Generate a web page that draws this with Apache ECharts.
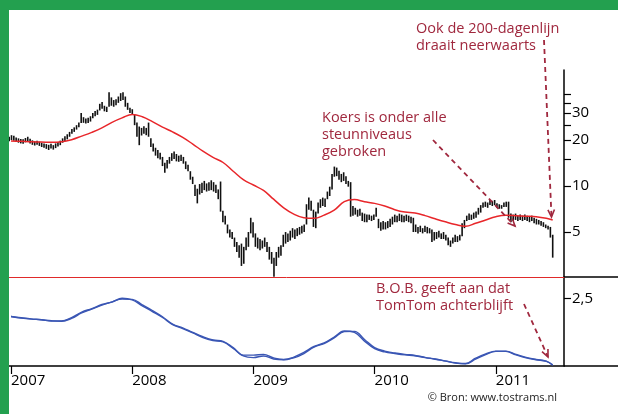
<!DOCTYPE html>
<html>
<head>
<meta charset="utf-8">
<title>TomTom koers, 200-dagenlijn en B.O.B.</title>
<script src="https://cdn.jsdelivr.net/npm/echarts@6.0.0/dist/echarts.min.js"></script>
<style>
  html, body { margin: 0; padding: 0; background: #fff; }
  #chart { width: 618px; height: 414px; }
</style>
</head>
<body>
<div id="chart"></div>
<script>
'use strict';

/* weekly price bars (euro) */
var weekHighs = [
  21.0, 21.5, 21.3, 20.8, 20.5, 20.3, 20.2, 20.6, 21.0, 20.4,
  19.9, 19.6, 19.8, 19.5, 19.2, 19.0, 18.8, 18.6, 18.9, 18.5,
  19.0, 19.4, 19.8, 20.5, 21.2, 21.8, 22.6, 23.6, 24.2, 25.0,
  26.0, 30.0, 28.2, 27.6, 28.0, 28.6, 30.0, 31.0, 31.6, 34.5,
  35.5, 33.5, 33.0, 41.0, 38.0, 36.5, 37.0, 38.5, 40.5, 41.0,
  38.5, 35.0, 32.5, 31.8, 29.5, 26.0, 24.5, 24.0, 24.6, 24.0,
  26.0, 20.5, 19.0, 17.8, 17.2, 16.5, 15.5, 14.2, 14.8, 15.5,
  16.4, 16.8, 16.2, 15.8, 16.0, 15.5, 14.5, 13.8, 12.5, 11.5,
  10.2, 9.6, 10.3, 10.5, 10.8, 10.4, 10.6, 10.9, 10.6, 10.2,
  9.5, 10.7, 6.9, 6.4, 5.6, 5.2, 5.0, 4.6, 4.3, 4.1,
  4.2, 4.0, 4.6, 5.0, 6.2, 5.8, 4.9, 4.6, 4.5, 4.4,
  4.6, 4.3, 4.0, 3.7, 3.4, 3.7, 4.0, 4.1, 4.8, 5.0,
  4.9, 5.1, 5.3, 5.2, 5.3, 5.4, 5.5, 5.6, 7.6, 8.4,
  8.0, 7.0, 6.8, 7.8, 8.2, 8.4, 8.3, 9.2, 9.9, 12.0,
  13.4, 13.2, 12.6, 12.0, 12.3, 11.6, 10.8, 10.6, 7.4, 7.2,
  7.0, 7.1, 6.7, 6.6, 6.5, 6.5, 6.4, 6.5, 7.2, 6.1,
  5.8, 5.9, 5.8, 5.9, 6.1, 6.3, 6.5, 6.4, 6.6, 6.5,
  6.4, 6.5, 6.4, 6.3, 6.2, 5.6, 5.4, 5.5, 5.3, 5.5,
  5.4, 5.3, 5.2, 5.0, 5.0, 5.1, 4.9, 5.0, 4.8, 4.6,
  4.4, 4.6, 4.8, 4.7, 4.8, 5.7, 6.0, 6.4, 6.6, 6.5,
  6.7, 6.8, 7.2, 7.5, 7.8, 7.9, 7.8, 8.1, 8.0, 8.1,
  7.7, 7.6, 7.5, 7.8, 7.9, 7.9, 6.6, 6.5, 6.6, 6.4,
  6.5, 6.4, 6.5, 6.4, 6.3, 6.4, 6.2, 6.1, 6.0, 5.9,
  5.8, 5.6, 5.5, 5.4, 4.8
];
var weekLows = [
  19.6, 20.0, 19.8, 19.4, 19.2, 19.0, 18.9, 19.3, 19.5, 19.0,
  18.6, 18.4, 18.6, 18.3, 18.0, 17.8, 17.5, 17.2, 17.6, 17.3,
  17.7, 18.1, 18.5, 19.2, 19.6, 20.2, 21.0, 22.0, 22.6, 23.4,
  24.2, 25.8, 25.9, 25.6, 25.8, 26.4, 27.8, 28.6, 29.2, 31.2,
  32.0, 30.8, 30.5, 33.0, 33.5, 33.0, 33.8, 35.0, 36.0, 36.5,
  33.0, 31.5, 30.0, 29.5, 25.0, 21.0, 18.5, 21.4, 22.0, 21.5,
  21.0, 18.0, 16.8, 15.8, 15.2, 14.9, 13.5, 12.2, 13.0, 14.0,
  14.6, 15.0, 14.5, 14.4, 14.6, 14.0, 12.9, 12.5, 11.0, 10.3,
  8.6, 7.7, 8.8, 9.0, 9.4, 9.2, 9.3, 9.4, 9.2, 9.0,
  8.2, 6.8, 5.8, 5.6, 4.9, 4.6, 4.5, 4.0, 3.7, 3.4,
  3.0, 3.1, 3.8, 4.0, 4.9, 4.6, 4.0, 3.9, 3.8, 3.9,
  4.0, 3.7, 3.3, 3.1, 2.55, 3.0, 3.4, 3.5, 4.0, 4.2,
  4.3, 4.4, 4.6, 4.5, 4.7, 4.8, 4.9, 5.0, 5.6, 7.0,
  6.9, 5.4, 5.3, 6.6, 7.2, 7.4, 7.3, 8.2, 8.6, 9.5,
  11.5, 11.6, 11.0, 10.6, 10.8, 10.3, 9.9, 6.3, 6.4, 6.5,
  6.3, 6.4, 5.9, 5.8, 5.8, 6.0, 5.9, 6.0, 6.3, 5.3,
  5.1, 5.2, 5.2, 5.3, 5.4, 5.6, 5.8, 5.8, 5.9, 5.8,
  5.8, 5.9, 5.8, 5.7, 5.0, 5.0, 4.9, 5.0, 4.9, 5.0,
  4.9, 4.9, 4.3, 4.4, 4.5, 4.6, 4.5, 4.5, 4.4, 4.1,
  4.0, 4.2, 4.3, 4.3, 4.4, 4.7, 5.3, 5.9, 6.0, 6.0,
  6.1, 6.2, 6.5, 6.7, 7.2, 7.3, 7.2, 7.5, 7.4, 7.5,
  7.2, 7.1, 7.1, 7.3, 7.3, 6.2, 5.8, 5.9, 6.0, 5.9,
  6.0, 5.9, 6.0, 5.9, 5.8, 5.9, 5.7, 5.6, 5.6, 5.5,
  5.4, 5.3, 5.2, 4.6, 3.4
];
var firstWeek = 2006.985;

/* monthly values jan 2007 .. mei 2011, last point sits on the last bar */
var ma200 = [
  19.7, 19.6, 19.45, 19.4, 19.3, 19.45, 20.1, 21.2, 22.45, 24.0,
  26.1, 27.9, 29.4, 28.4, 26.4, 24.3, 22.6, 20.8, 18.8, 16.9,
  15.4, 14.25, 12.5, 11.0, 10.15, 9.35, 8.2, 7.2, 6.55, 6.2,
  6.15, 6.45, 6.95, 7.9, 8.15, 7.9, 7.7, 7.4, 7.0, 6.75,
  6.65, 6.4, 6.1, 5.83, 5.6, 5.45, 5.7, 6.0, 6.3, 6.44,
  6.4, 6.35, 6.3, 6.15, 5.99
];
var bobFast = [
  1.83, 1.77, 1.73, 1.71, 1.66, 1.66, 1.79, 1.99, 2.12, 2.27,
  2.36, 2.50, 2.44, 2.22, 2.01, 1.79, 1.53, 1.38, 1.22, 1.05,
  0.94, 0.89, 0.65, 0.37, 0.31, 0.37, 0.26, 0.23, 0.33, 0.50,
  0.72, 0.85, 1.07, 1.29, 1.24, 0.92, 0.64, 0.52, 0.46, 0.41,
  0.38, 0.31, 0.25, 0.18, 0.11, 0.09, 0.29, 0.45, 0.55, 0.54,
  0.41, 0.30, 0.23, 0.17, 0.03
];
var bobSlow = [
  1.83, 1.78, 1.74, 1.71, 1.67, 1.65, 1.76, 1.96, 2.10, 2.25,
  2.37, 2.47, 2.46, 2.26, 2.05, 1.82, 1.55, 1.41, 1.24, 1.08,
  0.96, 0.91, 0.68, 0.40, 0.40, 0.43, 0.30, 0.24, 0.30, 0.46,
  0.70, 0.83, 1.04, 1.27, 1.28, 0.98, 0.68, 0.55, 0.48, 0.43,
  0.39, 0.32, 0.26, 0.19, 0.12, 0.08, 0.25, 0.42, 0.54, 0.55,
  0.43, 0.32, 0.24, 0.18, 0.04
];

var yearTicks = [2007, 2008, 2009, 2010, 2011];
var priceTicks = [5, 10, 15, 20, 25, 30, 35, 40];
var priceLabels = [5, 10, 20, 30];
var bobTicks = [2.5];

var noteColor = '#a0283e';
var fontName = '"Open Sans", "Noto Sans", sans-serif';

/* build series data */
var lg = Math.log10;
var lastDate = firstWeek + (weekHighs.length - 1) / 52.18;
var bars = weekHighs.map(function (h, i) {
  return [firstWeek + i / 52.18, lg(weekLows[i]), lg(h)];
});
function monthly(arr, fn) {
  return arr.map(function (v, m) {
    var x = m === arr.length - 1 ? lastDate : 2007 + m / 12;
    return [x, fn ? fn(v) : v];
  });
}

function arrow(x1, y1, x2, y2) {
  var a = Math.atan2(y2 - y1, x2 - x1), L = 8, w = 0.42;
  return [
    { type: 'line', z: 50, shape: { x1: x1, y1: y1, x2: x2, y2: y2 },
      style: { stroke: noteColor, lineWidth: 1.8, lineDash: [5, 4] } },
    { type: 'polyline', z: 50,
      shape: { points: [
        [x2 - L * Math.cos(a - w), y2 - L * Math.sin(a - w)],
        [x2, y2],
        [x2 - L * Math.cos(a + w), y2 - L * Math.sin(a + w)]
      ] },
      style: { stroke: noteColor, lineWidth: 1.6, fill: null } }
  ];
}
function note(x, y, text) {
  return { type: 'text', z: 50, style: {
    x: x, y: y, text: text, fill: noteColor, font: '14.5px ' + fontName,
    lineHeight: 17, verticalAlign: 'top'
  } };
}

var xMin = 2006.9835, xMax = 2011.5627;

var chart = echarts.init(document.getElementById('chart'), null, { renderer: 'canvas' });

var option = {
  animation: false,
  backgroundColor: '#fff',
  textStyle: { fontFamily: fontName },
  grid: [
    { left: 9, right: 54, top: 70, height: 207 },
    { left: 9, right: 54, top: 277, height: 89 }
  ],
  xAxis: [
    {
      gridIndex: 0, type: 'value', min: xMin, max: xMax,
      axisLine: { onZero: false, lineStyle: { color: '#e02a2a', width: 1 } },
      axisTick: { show: false }, axisLabel: { show: false }, splitLine: { show: false }
    },
    {
      gridIndex: 1, type: 'value', min: xMin, max: xMax,
      axisLine: { onZero: false, lineStyle: { color: '#000', width: 1.5 } },
      axisTick: { customValues: yearTicks, length: 8, lineStyle: { color: '#000', width: 1.2 } },
      axisLabel: {
        customValues: yearTicks, align: 'left', margin: 7,
        fontSize: 15, color: '#000', fontFamily: fontName,
        formatter: function (v) { return String(Math.round(v)); }
      },
      splitLine: { show: false }
    }
  ],
  yAxis: [
    {
      gridIndex: 0, type: 'value', position: 'right',
      min: lg(2.54), max: lg(57.4),
      axisLine: { show: true, onZero: false, lineStyle: { color: '#000', width: 1.5 } },
      axisTick: { customValues: priceTicks.map(lg), length: 7, lineStyle: { color: '#000', width: 1.2 } },
      axisLabel: {
        customValues: priceLabels.map(lg), margin: 8,
        fontSize: 15, color: '#000', fontFamily: fontName,
        formatter: function (v) { return String(Math.round(Math.pow(10, v))); }
      },
      splitLine: { show: false }
    },
    {
      gridIndex: 1, type: 'value', position: 'right',
      min: 0, max: 3.287,
      axisLine: { show: true, onZero: false, lineStyle: { color: '#000', width: 1.5 } },
      axisTick: { customValues: bobTicks, length: 7, lineStyle: { color: '#000', width: 1.2 } },
      axisLabel: {
        customValues: bobTicks, margin: 8,
        fontSize: 15, color: '#000', fontFamily: fontName,
        formatter: function (v) { return String(v).replace('.', ','); }
      },
      splitLine: { show: false }
    }
  ],
  series: [
    {
      name: 'Koers', type: 'custom', xAxisIndex: 0, yAxisIndex: 0,
      encode: { x: 0, y: [1, 2] },
      data: bars,
      renderItem: function (params, api) {
        var lo = api.coord([api.value(0), api.value(1)]);
        var hi = api.coord([api.value(0), api.value(2)]);
        return {
          type: 'line',
          shape: { x1: lo[0], y1: lo[1], x2: hi[0], y2: hi[1] },
          style: { stroke: '#111', lineWidth: 1.6 }
        };
      }
    },
    {
      name: '200-dagenlijn', type: 'line', xAxisIndex: 0, yAxisIndex: 0,
      data: monthly(ma200, lg), showSymbol: false, smooth: 0.4,
      lineStyle: { color: '#e8262a', width: 1.5 }, z: 3
    },
    {
      name: 'B.O.B.', type: 'line', xAxisIndex: 1, yAxisIndex: 1,
      data: monthly(bobFast), showSymbol: false, smooth: 0.4,
      lineStyle: { color: '#3a56b4', width: 1.4 }
    },
    {
      name: 'B.O.B. gemiddelde', type: 'line', xAxisIndex: 1, yAxisIndex: 1,
      data: monthly(bobSlow), showSymbol: false, smooth: 0.4,
      lineStyle: { color: '#3a56b4', width: 1.4 }
    }
  ],
  graphic: [
    /* green frame */
    { type: 'rect', z: 100, shape: { x: 0, y: 0, width: 618, height: 10 }, style: { fill: '#23a04f' } },
    { type: 'rect', z: 100, shape: { x: 0, y: 0, width: 9, height: 414 }, style: { fill: '#23a04f' } },
    /* lines running on past the right axis */
    { type: 'line', shape: { x1: 564, y1: 277, x2: 618, y2: 277 }, style: { stroke: '#000', lineWidth: 1.5 } },
    { type: 'line', shape: { x1: 564, y1: 366, x2: 618, y2: 366 }, style: { stroke: '#000', lineWidth: 1.5 } },
    note(416, 20.5, 'Ook de 200-dagenlijn\ndraait neerwaarts'),
    note(322, 109.5, 'Koers is onder alle\nsteunniveaus\ngebroken'),
    note(376, 280.5, 'B.O.B. geeft aan dat\nTomTom achterblijft'),
    { type: 'text', z: 50, style: {
      x: 557, y: 398, text: '\u00a9 Bron: www.tostrams.nl', fill: '#222',
      font: '11px ' + fontName, align: 'right', verticalAlign: 'middle'
    } }
  ].concat(arrow(544, 40, 551.5, 217), arrow(433, 140, 515, 226), arrow(524, 304, 548, 357))
};

chart.setOption(option);
window.addEventListener('resize', function () {
  chart.resize();
});
</script>
</body>
</html>
